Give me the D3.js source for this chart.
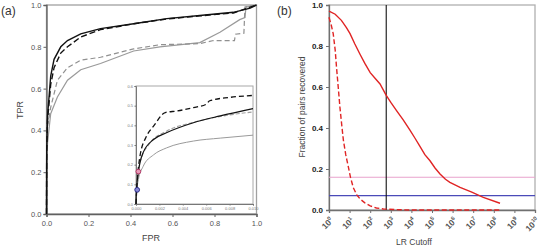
<!DOCTYPE html>
<html>
<head>
<meta charset="utf-8">
<script src="https://cdn.jsdelivr.net/npm/d3@7"></script>
<style>
  body { margin: 0; background: #fff; }
  svg { display: block; font-family: "Liberation Sans", Arial, sans-serif; }
</style>
</head>
<body>
<div id="chart"></div>
<script>
// ---- panel (a) : ROC curves [FPR, TPR]
const rocBlackSolid = [[0,0],[0.001,0.3],[0.005,0.47],[0.02,0.66],[0.036,0.74],[0.068,0.8],[0.1,0.83],[0.163,0.862],[0.257,0.887],[0.415,0.91],[0.573,0.935],[0.73,0.95],[0.89,0.965],[0.97,0.985],[1,1]];
const rocBlackDashed = [[0,0],[0.001,0.3],[0.005,0.45],[0.02,0.62],[0.036,0.7],[0.068,0.77],[0.1,0.8],[0.163,0.847],[0.257,0.882],[0.415,0.91],[0.573,0.933],[0.73,0.948],[0.89,0.962],[1,1]];
const rocGrayDashed = [[0,0],[0.001,0.25],[0.005,0.42],[0.02,0.51],[0.052,0.64],[0.1,0.7],[0.163,0.736],[0.257,0.75],[0.415,0.79],[0.54,0.81],[0.73,0.815],[0.795,0.83],[0.895,0.83],[0.9,0.86],[0.94,0.865],[0.945,0.99],[1,1]];
const rocGraySolid = [[0,0],[0.002,0.25],[0.005,0.34],[0.02,0.48],[0.052,0.56],[0.1,0.64],[0.163,0.69],[0.257,0.72],[0.415,0.78],[0.54,0.8],[0.73,0.82],[0.826,0.87],[0.92,0.93],[0.945,0.94],[0.95,0.99],[1,1]];

// inset zoom on low FPR
const insetBlackDashed = [[0,0],[0.00006,0.072],[0.00034,0.243],[0.0009,0.345],[0.0015,0.396],[0.0025,0.465],[0.0035,0.473],[0.0049,0.49],[0.006,0.507],[0.0063,0.525],[0.008,0.542],[0.01,0.552]];
const insetBlackSolid = [[0,0],[0.00002,0.05],[0.0002,0.16],[0.0006,0.26],[0.0015,0.328],[0.0026,0.362],[0.0049,0.413],[0.0072,0.448],[0.01,0.485]];
const insetGrayDashed = [[0,0],[0.00005,0.1],[0.00034,0.21],[0.0012,0.31],[0.0026,0.37],[0.0049,0.415],[0.0072,0.445],[0.01,0.468]];
const insetGraySolid = [[0,0],[0.00003,0.04],[0.0002,0.123],[0.0006,0.19],[0.0015,0.25],[0.0026,0.285],[0.0049,0.32],[0.0072,0.335],[0.01,0.35]];
const insetMarkers = [
  { x: 0.0002, y: 0.165, fill: '#e89ab8', stroke: '#b03060' },
  { x: 0.0001, y: 0.072, fill: '#8a8ad8', stroke: '#202080' }
];

const aTicksX = [0, 0.2, 0.4, 0.6, 0.8, 1.0];
const aTicksY = [0, 0.2, 0.4, 0.6, 0.8, 1.0];
const insetTicksX = [0, 0.002, 0.004, 0.006, 0.008, 0.010];
const insetTicksY = [0, 0.1, 0.2, 0.3, 0.4, 0.5, 0.6];

// ---- panel (b) : fraction recovered vs LR cutoff [LR, fraction]
const lrSolid = [[1,0.97],[2,0.955],[4,0.925],[7,0.89],[10.5,0.86],[18,0.81],[32,0.76],[55,0.715],[100,0.67],[180,0.64],[300,0.615],[590,0.56],[1000,0.525],[1900,0.485],[4000,0.44],[8500,0.39],[15000,0.35],[26000,0.31],[45000,0.27],[80000,0.24],[140000,0.205],[245000,0.176],[450000,0.15],[740000,0.135],[2.3e6,0.11],[8e6,0.088],[3.1e7,0.062],[2e8,0.033]];
const lrDashed = [[1,0.94],[1.3,0.9],[1.6,0.86],[2,0.78],[2.3,0.7],[2.8,0.6],[3.4,0.5],[4.2,0.41],[5,0.34],[6.5,0.27],[8.7,0.21],[11,0.16],[15,0.11],[22,0.075],[32,0.054],[55,0.035],[100,0.02],[200,0.01],[440,0.005],[2000,0.002],[8000,0],[2e8,0]];
const lrCutoff = 600;
const hLines = [{ y: 0.16, color: '#e8a2cc' }, { y: 0.07, color: '#4a4ab8' }];
const bTicksX = d3.range(0, 11);       // exponents 10^0 .. 10^10
const bTicksY = [0, 0.2, 0.4, 0.6, 0.8, 1.0];

const W = 538, H = 248;
const svg = d3.select('#chart').append('svg').attr('width', W).attr('height', H);

// ================= panel (a)
const A = { left: 46.5, right: 256.5, top: 5, bottom: 214 };
const ax = d3.scaleLinear().domain([0, 1]).range([A.left, A.right]);
const ay = d3.scaleLinear().domain([0, 1]).range([A.bottom, A.top]);
const ga = svg.append('g');

ga.append('rect')
  .attr('x', A.left).attr('y', A.top)
  .attr('width', A.right - A.left).attr('height', A.bottom - A.top)
  .attr('fill', 'none').attr('stroke', '#a0a0a0').attr('stroke-width', 1.3);

const axA = ga.append('g').attr('transform', `translate(0,${A.bottom})`)
  .call(d3.axisBottom(ax).tickValues(aTicksX).tickFormat(d3.format('.1f')).tickSize(3).tickPadding(4));
const ayA = ga.append('g').attr('transform', `translate(${A.left},0)`)
  .call(d3.axisLeft(ay).tickValues(aTicksY).tickFormat(d3.format('.1f')).tickSize(3).tickPadding(2));
[axA, ayA].forEach(g => {
  g.select('.domain').attr('stroke', '#606060').attr('stroke-width', 1.3);
  g.selectAll('.tick line').attr('stroke', '#606060');
  g.selectAll('.tick text').attr('fill', '#555').attr('font-size', 7.5);
});

const lineA = d3.line().x(d => ax(d[0])).y(d => ay(d[1]));
const rocStyles = [
  { data: rocGraySolid, color: '#9a9a9a', dash: null, w: 1.2 },
  { data: rocGrayDashed, color: '#909090', dash: '5,3', w: 1.2 },
  { data: rocBlackDashed, color: '#111', dash: '6,3', w: 1.4 },
  { data: rocBlackSolid, color: '#111', dash: null, w: 1.4 }
];
rocStyles.forEach(s => {
  ga.append('path').datum(s.data).attr('d', lineA)
    .attr('fill', 'none').attr('stroke', s.color).attr('stroke-width', s.w)
    .attr('stroke-dasharray', s.dash);
});

ga.append('text').attr('x', 151).attr('y', 241).attr('text-anchor', 'middle')
  .attr('font-size', 9).attr('fill', '#444').text('FPR');
ga.append('text').attr('transform', 'translate(23,110) rotate(-90)').attr('text-anchor', 'middle')
  .attr('font-size', 9).attr('fill', '#444').text('TPR');
ga.append('text').attr('x', 1).attr('y', 15).attr('font-size', 12).attr('fill', '#333').text('(a)');

// inset
const I = { left: 136, right: 253, top: 86, bottom: 204 };
const ix = d3.scaleLinear().domain([0, 0.01]).range([I.left, I.right]);
const iy = d3.scaleLinear().domain([0, 0.6]).range([I.bottom, I.top]);
const gi = ga.append('g');
gi.append('rect')
  .attr('x', I.left).attr('y', I.top)
  .attr('width', I.right - I.left).attr('height', I.bottom - I.top)
  .attr('fill', '#fff').attr('stroke', '#a8a8a8').attr('stroke-width', 1);
const ixA = gi.append('g').attr('transform', `translate(0,${I.bottom})`)
  .call(d3.axisBottom(ix).tickValues(insetTicksX).tickFormat(d3.format('.3f')).tickSize(1.5).tickPadding(1.5));
const iyA = gi.append('g').attr('transform', `translate(${I.left},0)`)
  .call(d3.axisLeft(iy).tickValues(insetTicksY).tickFormat(d3.format('.1f')).tickSize(1.5).tickPadding(1.5));
[ixA, iyA].forEach(g => {
  g.select('.domain').attr('stroke', '#777').attr('stroke-width', 1);
  g.selectAll('.tick line').attr('stroke', '#777');
  g.selectAll('.tick text').attr('fill', '#777').attr('font-size', 4);
});

const lineI = d3.line().x(d => ix(d[0])).y(d => iy(d[1])).curve(d3.curveMonotoneX);
const insetStyles = [
  { data: insetGraySolid, color: '#9a9a9a', dash: null, w: 1 },
  { data: insetGrayDashed, color: '#a0a0a0', dash: '4,2', w: 1.1 },
  { data: insetBlackSolid, color: '#111', dash: null, w: 1.2 },
  { data: insetBlackDashed, color: '#111', dash: '5,3', w: 1.3 }
];
insetStyles.forEach(s => {
  gi.append('path').datum(s.data).attr('d', lineI)
    .attr('fill', 'none').attr('stroke', s.color).attr('stroke-width', s.w)
    .attr('stroke-dasharray', s.dash);
});
gi.selectAll('circle.mk').data(insetMarkers).join('circle')
  .attr('class', 'mk')
  .attr('cx', d => ix(d.x)).attr('cy', d => iy(d.y)).attr('r', 2.4)
  .attr('fill', d => d.fill).attr('stroke', d => d.stroke).attr('stroke-width', 0.9);

// ================= panel (b)
const B = { left: 329, right: 535, top: 5, bottom: 210 };
const bx = d3.scaleLog().domain([1, 1e10]).range([B.left, B.right]);
const by = d3.scaleLinear().domain([0, 1]).range([B.bottom, B.top]);
const gb = svg.append('g');

gb.append('rect')
  .attr('x', B.left).attr('y', B.top)
  .attr('width', B.right - B.left).attr('height', B.bottom - B.top)
  .attr('fill', 'none').attr('stroke', '#b0b0b0').attr('stroke-width', 1.3);

const bxA = gb.append('g').attr('transform', `translate(0,${B.bottom})`)
  .call(d3.axisBottom(bx).tickValues(bTicksX.map(e => Math.pow(10, e))).tickFormat('').tickSize(3));
const byA = gb.append('g').attr('transform', `translate(${B.left},0)`)
  .call(d3.axisLeft(by).tickValues(bTicksY).tickFormat(d3.format('.1f')).tickSize(3).tickPadding(3));
[bxA, byA].forEach(g => {
  g.select('.domain').attr('stroke', '#707070').attr('stroke-width', 1.3);
  g.selectAll('.tick line').attr('stroke', '#707070');
});
byA.selectAll('.tick text').attr('fill', '#222').attr('font-size', 8).attr('font-weight', 'bold');

// rotated 10^n labels
const xl = gb.append('g').selectAll('text').data(bTicksX).join('text')
  .attr('transform', e => `translate(${bx(Math.pow(10, e)) + 5},${B.bottom + 11}) rotate(-45)`)
  .attr('text-anchor', 'end')
  .attr('font-size', 8.5).attr('font-weight', 'bold').attr('fill', '#555');
xl.append('tspan').text('10');
xl.append('tspan').attr('dy', -3.5).attr('font-size', 5.5).text(e => e);

hLines.forEach(h => {
  gb.append('line').attr('x1', B.left).attr('x2', B.right)
    .attr('y1', by(h.y)).attr('y2', by(h.y))
    .attr('stroke', h.color).attr('stroke-width', 1.1);
});
gb.append('line').attr('x1', bx(lrCutoff)).attr('x2', bx(lrCutoff))
  .attr('y1', B.top).attr('y2', B.bottom)
  .attr('stroke', '#111').attr('stroke-width', 1.1);

const lineB = d3.line().x(d => bx(d[0])).y(d => by(d[1]));
gb.append('path').datum(lrDashed).attr('d', lineB)
  .attr('fill', 'none').attr('stroke', '#e02424').attr('stroke-width', 1.4)
  .attr('stroke-dasharray', '5,2.5');
gb.append('path').datum(lrSolid).attr('d', lineB)
  .attr('fill', 'none').attr('stroke', '#e02424').attr('stroke-width', 1.4);

gb.append('text').attr('x', 414).attr('y', 245).attr('text-anchor', 'middle')
  .attr('font-size', 8.5).attr('fill', '#444').text('LR Cutoff');
gb.append('text').attr('transform', 'translate(305,107) rotate(-90)').attr('text-anchor', 'middle')
  .attr('font-size', 8.5).attr('fill', '#444').text('Fraction of pairs recovered');
gb.append('text').attr('x', 277).attr('y', 15).attr('font-size', 12).attr('fill', '#333').text('(b)');
</script>
</body>
</html>
